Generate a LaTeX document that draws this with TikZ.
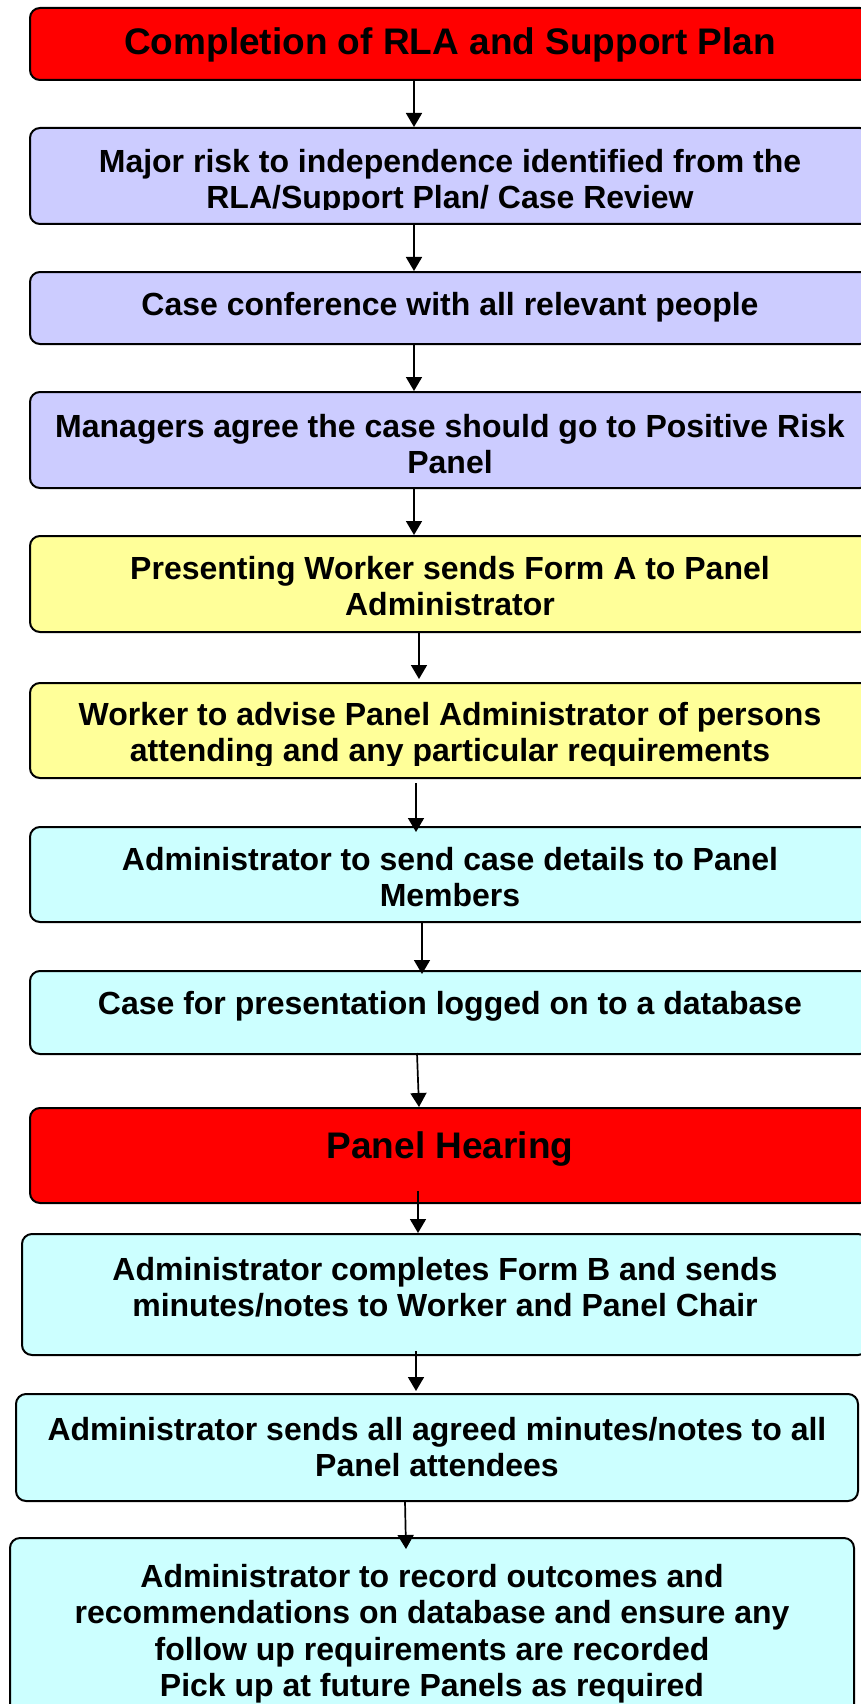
\documentclass[tikz,border=0pt]{standalone}
\usepackage{fontspec}
\setmainfont{Liberation Sans}
\usetikzlibrary{arrows.meta}

\definecolor{alertred}{HTML}{FF0000}
\definecolor{planblue}{HTML}{CCCCFF}
\definecolor{formyellow}{HTML}{FFFF99}
\definecolor{adminaqua}{HTML}{CCFFFF}

\tikzset{
    stage/.style={draw=black, line width=2pt, rounded corners=10pt, inner sep=0pt, minimum width=840},
    caption/.style={anchor=north, align=center, inner sep=0pt, font=\bfseries\fontsize{32}{36.5}\selectfont},
    headline/.style={caption, font=\bfseries\fontsize{37}{42}\selectfont},
    flow/.style={-{Triangle[length=14pt,width=16pt]}, line width=1.7pt}
}

\begin{document}
\begin{tikzpicture}[x=1pt, y=-1pt]
        % page frame, the lower box runs off it
        \clip (0,0) rectangle (861,1704);

        % Planning stage
        \node[stage, fill=alertred, minimum height=72] (rla) at (450,44) {};
        \node[headline] (rlaText) at ([yshift=-20pt]rla.north) {Completion of RLA and Support Plan};

        \node[stage, fill=planblue, minimum height=96] (risk) at (450,176) {};
        \begin{scope}
            % second line is cut short by the box
            \clip (risk.north west) rectangle ([yshift=15pt]risk.south east);
            \node[caption] (riskText) at ([yshift=-22pt]risk.north)
                {Major risk to independence identified from the\\RLA/Support Plan/ Case Review};
        \end{scope}

        \node[stage, fill=planblue, minimum height=72] (conference) at (450,308) {};
        \node[caption] (conferenceText) at ([yshift=-21pt]conference.north) {Case conference with all relevant people};

        \node[stage, fill=planblue, minimum height=96] (managers) at (450,440) {};
        \node[caption] (managersText) at ([yshift=-23pt]managers.north)
            {Managers agree the case should go to Positive Risk\\Panel};

        % Worker paperwork
        \node[stage, fill=formyellow, minimum height=96] (formA) at (450,584) {};
        \node[caption] (formAText) at ([yshift=-21pt]formA.north)
            {Presenting Worker sends Form A to Panel\\Administrator};

        \node[stage, fill=formyellow, minimum height=95] (attendees) at (450,730.5) {};
        \begin{scope}
            \clip (attendees.north west) rectangle ([yshift=14pt]attendees.south east);
            \node[caption] (attendeesText) at ([yshift=-20pt]attendees.north)
                {Worker to advise Panel Administrator of persons\\attending and any particular requirements};
        \end{scope}

        % Administrator before the hearing
        \node[stage, fill=adminaqua, minimum height=95] (details) at (450,874.5) {};
        \node[caption] (detailsText) at ([yshift=-21pt]details.north)
            {Administrator to send case details to Panel\\Members};

        \node[stage, fill=adminaqua, minimum height=83] (logged) at (450,1012.5) {};
        \node[caption] (loggedText) at ([yshift=-21pt]logged.north) {Case for presentation logged on to a database};

        \node[stage, fill=alertred, minimum height=95] (hearing) at (450,1155.5) {};
        \node[headline] (hearingText) at ([yshift=-24pt]hearing.north) {Panel Hearing};

        % Administrator after the hearing
        \node[stage, fill=adminaqua, minimum width=846, minimum height=121] (formB) at (445,1294.5) {};
        \node[caption] (formBText) at ([yshift=-24pt]formB.north)
            {Administrator completes Form B and sends\\minutes/notes to Worker and Panel Chair};

        \node[stage, fill=adminaqua, minimum width=842, minimum height=107] (minutes) at (437,1447.5) {};
        \node[caption] (minutesText) at ([yshift=-24pt]minutes.north)
            {Administrator sends all agreed minutes/notes to all\\Panel attendees};

        \node[stage, fill=adminaqua, minimum width=844, minimum height=183] (outcomes) at (432,1629.5) {};
        \node[caption] (outcomesText) at ([yshift=-27pt]outcomes.north)
            {Administrator to record outcomes and\\recommendations on database and ensure any\\follow up requirements are recorded\\Pick up at future Panels as required};

        % Arrows down the chain
        \draw[flow] ([xshift=-36pt]rla.south) -- ([xshift=-36pt]risk.north);
        \draw[flow] ([xshift=-36pt]risk.south) -- ([xshift=-36pt]conference.north);
        \draw[flow] ([xshift=-36pt]conference.south) -- ([xshift=-36pt]managers.north);
        \draw[flow] ([xshift=-36pt]managers.south) -- ([xshift=-36pt]formA.north);
        \draw[flow] ([xshift=-31pt, yshift=2pt]formA.south) -- ([xshift=-31pt, yshift=3pt]attendees.north);
        \draw[flow] ([xshift=-34pt, yshift=-4pt]attendees.south) -- ([xshift=-34pt, yshift=-6pt]details.north);
        \draw[flow] ([xshift=-28pt, yshift=2pt]details.south) -- ([xshift=-28pt, yshift=-4pt]logged.north);
        \draw[flow] ([xshift=-33pt, yshift=2pt]logged.south) -- ([xshift=-31pt]hearing.north);
        \draw[flow] ([xshift=-32pt, yshift=13pt]hearing.south) -- ([xshift=-27pt]formB.north);
        \draw[flow] ([xshift=-29pt, yshift=5pt]formB.south) -- ([xshift=-21pt, yshift=2pt]minutes.north);
        \draw[flow] ([xshift=-32pt, yshift=1pt]minutes.south) -- ([xshift=-26pt, yshift=-12pt]outcomes.north);

\end{tikzpicture}
\end{document}
